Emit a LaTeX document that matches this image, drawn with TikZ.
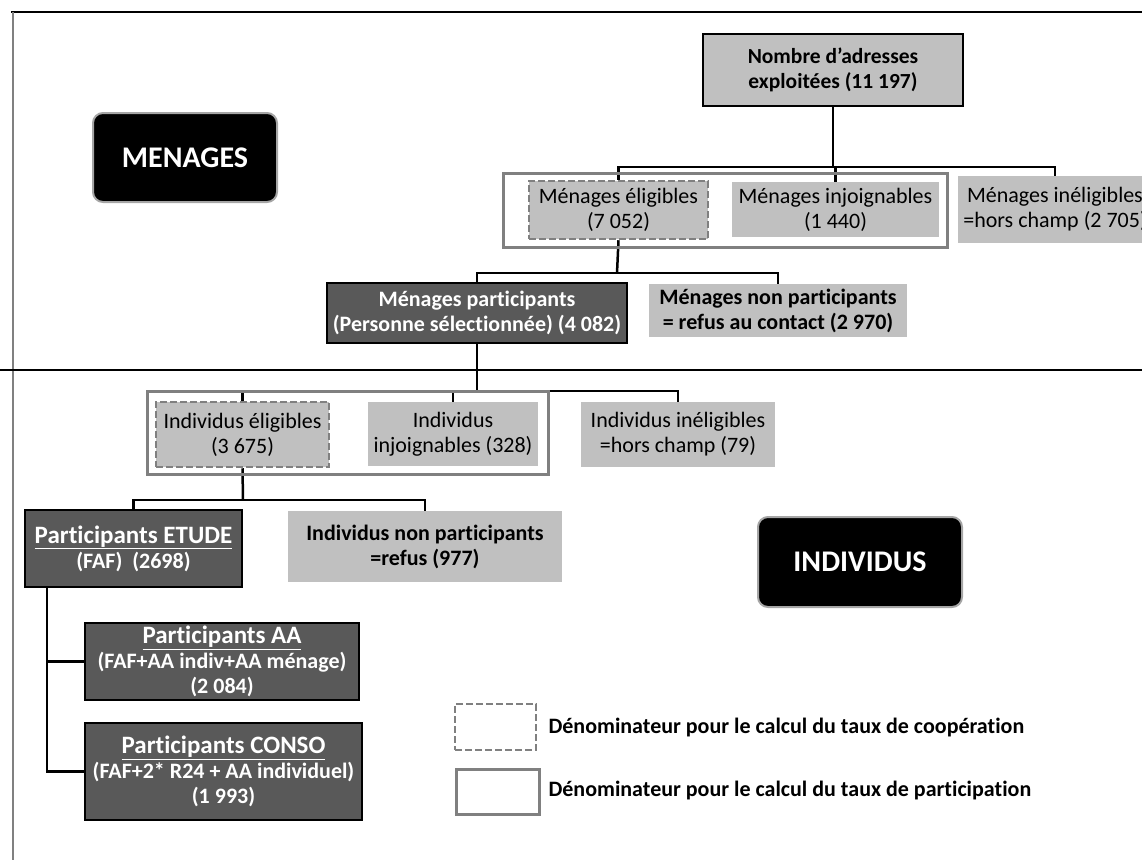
\documentclass[tikz,border=0pt]{standalone}
\usepackage{fontspec}
\setmainfont[Ligatures=NoCommon]{Carlito}
\definecolor{boxgray}{HTML}{C0C0C0}
\definecolor{darkfill}{HTML}{595959}
\definecolor{framegray}{HTML}{808080}
\tikzset{
  conn/.style={line width=2.5pt, black},
  sz/.style 2 args={minimum width=#1pt, minimum height=#2pt},
  lbox/.style={fill=boxgray, inner sep=0pt, align=center, font=\fontsize{22}{25}\selectfont},
  lboxb/.style={lbox, font=\bfseries\fontsize{22}{25}\selectfont},
  dbox/.style={fill=darkfill, draw=black, line width=2.5pt, text=white, inner sep=0pt, align=center, font=\bfseries\fontsize{22}{25}\selectfont},
  eligbox/.style={lbox, draw=framegray, line width=2.5pt, dash pattern=on 7pt off 3pt},
  framebox/.style={draw=framegray, line width=3pt, inner sep=0pt},
  tagbox/.style={fill=black, draw=gray!70, line width=2pt, rounded corners=10pt, text=white, font=\bfseries\fontsize{30}{36}\selectfont},
  legtext/.style={anchor=west, font=\bfseries\fontsize{22}{25}\selectfont}
}
\newcommand{\titre}[1]{{\fontsize{25}{28}\selectfont\underline{#1}}}
\begin{document}
\begin{tikzpicture}[x=1pt, y=-1pt]
  \useasboundingbox (0,0) rectangle (1142,860);
  % borders and separator
  \draw[line width=1.5pt] (11,12) -- (1142,12);
  \draw[framegray, line width=2pt] (13,12) -- (13,860);
  \draw[line width=2pt] (0,370) -- (1142,370);
  % tags
  \node[tagbox, sz={184}{89}] (tagMen) at (185,157.5) {MENAGES};
  \node[tagbox, sz={204}{90}] (tagInd) at (860,562) {INDIVIDUS};
  % menages
  \node[lbox, draw=black, line width=2.5pt, font=\bfseries\fontsize{21.5}{25}\selectfont, sz={260}{72}] (adr) at (833,70)
       {Nombre d’adresses\\exploitées (11 197)};
  \node[eligbox, sz={179}{58}] (menElig) at (618.5,210) {Ménages éligibles\\(7 052)};
  \node[lbox, sz={207}{55}] (menInj) at (835.5,209.5) {Ménages injoignables\\(1 440)};
  \node[lbox, sz={194}{67}] (menInel) at (1055,209.5) {Ménages inéligibles\\=hors champ (2 705)};
  \node[dbox, sz={300}{60}] (menPart) at (477,313) {Ménages participants\\(Personne sélectionnée) (4 082)};
  \node[lboxb, sz={258}{53}] (menNon) at (778,310.5) {Ménages non participants\\= refus au contact (2 970)};
  % individus
  \node[eligbox, sz={173}{65}] (indElig) at (242.5,434.5) {Individus éligibles\\(3 675)};
  \node[lbox, sz={170}{64}] (indInj) at (453,434) {Individus\\injoignables (328)};
  \node[lbox, sz={194}{65}] (indInel) at (678,434.5) {Individus inéligibles\\=hors champ (79)};
  \node[dbox, sz={217}{77}] (etude) at (133.5,548.5) {\titre{Participants ETUDE}\\(FAF)\ \ (2698)};
  \node[lboxb, sz={274}{71}] (indNon) at (425,546.5) {Individus non participants\\=refus (977)};
  \node[dbox, sz={274}{77}] (aa) at (222,661.5) {\titre{Participants AA}\\(FAF+AA indiv+AA ménage)\\(2 084)};
  \node[dbox, sz={277}{97}] (conso) at (223.5,771.5) {\titre{Participants CONSO}\\(FAF+2* R24 + AA individuel)\\(1 993)};
  % legend
  \node[eligbox, fill=white, sz={81}{46}] (legCoop) at (495.5,727) {};
  \node[framebox, sz={83}{45}] (legPart) at (497.5,791.5) {};
  \node[legtext] (legCoopTxt) at (545,727) {Dénominateur pour le calcul du taux de coopération};
  \node[legtext] (legPartTxt) at (545,790) {Dénominateur pour le calcul du taux de participation};
  % connectors
  \coordinate (menFork) at (833,167);
  \coordinate (partFork) at (617,273);
  \coordinate (indFork) at (477,391);
  \coordinate (eligFork) at (243,500);
  \coordinate (stem) at (47,587);
  \draw[conn] (adr.south) -- (menFork);
  \draw[conn] (menElig.north) |- (menFork) -| (menInel.north);
  \draw[conn] (menInj.north) -- (menInj.north |- menFork);
  \draw[conn] (menElig.south) -- (partFork);
  \draw[conn] (menPart.north) |- (partFork) -| (menNon.north);
  \draw[conn] (menPart.south) -- (indFork);
  \draw[conn] (indElig.north) |- (indFork) -| (indInel.north);
  \draw[conn] (indInj.north) -- (indInj.north |- indFork);
  \draw[conn] (indElig.south) -- (eligFork);
  \draw[conn] (etude.north) |- (eligFork) -| (indNon.north);
  \draw[conn] (stem) |- (aa.west);
  \draw[conn] (stem) |- (conso.west);
  % frames
  \node[framebox, sz={444}{74}] (menFrame) at (725,210) {};
  \node[framebox, sz={401}{83}] (indFrame) at (347.5,432.5) {};
\end{tikzpicture}
\end{document}
